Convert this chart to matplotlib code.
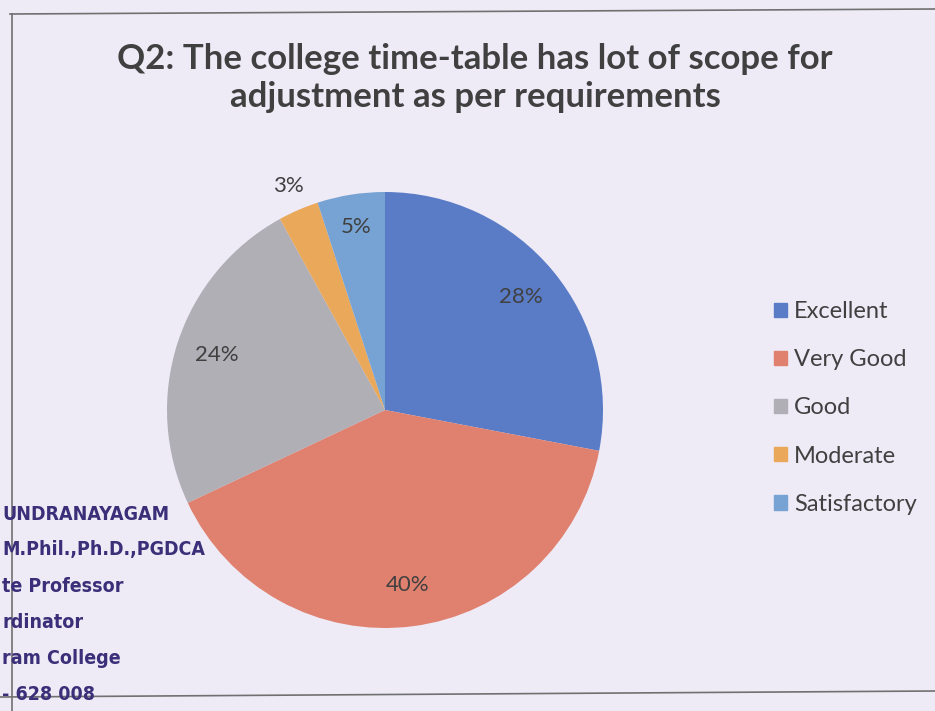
import numpy as np
import matplotlib.pyplot as plt
from matplotlib.patches import Rectangle
from matplotlib.lines import Line2D

# ======================
# Data
# ======================
categories = ['Excellent', 'Very Good', 'Good', 'Moderate', 'Satisfactory']
shares = [28, 40, 24, 3, 5]
colors = ['#5a7cc6', '#e0806e', '#b0afb6', '#e9a85a', '#76a3d3']
title = 'Q2: The college time-table has lot of scope for\nadjustment as per requirements'
stamp_lines = ['UNDRANAYAGAM', 'M.Phil.,Ph.D.,PGDCA', 'te Professor',
               'rdinator', 'ram College', '- 628 008']

bg = '#eeebf7'
text_color = '#404040'
W, H = 935, 711

fig = plt.figure(figsize=(W / 100, H / 100), dpi=100, facecolor=bg)

# chart frame (scanned border)
fig.add_artist(Line2D([10 / W, 1], [1 - 14 / H, 1 - 9 / H], color='#707070', lw=1.2))
fig.add_artist(Line2D([12 / W, 12 / W], [1 - 14 / H, 0], color='#707070', lw=1.2))
fig.add_artist(Line2D([0, 1], [1 - 697 / H, 1 - 691 / H], color='#707070', lw=1.2))

# pie axes: centre (385, 410) px, radius 218 px
cx, cy, r = 385, 410, 218
ax = fig.add_axes([(cx - r) / W, 1 - (cy + r) / H, 2 * r / W, 2 * r / H])
ax.set_facecolor('none')
wedges, texts, autotexts = ax.pie(shares, colors=colors, startangle=90, counterclock=False,
                                  radius=1, autopct='%d%%', pctdistance=0.81,
                                  textprops=dict(color=text_color, fontsize=16, family='Lato'))
ax.set_xlim(-1, 1)
ax.set_ylim(-1, 1)

# 3% label sits outside its slice, 5% a bit further in
for w, t, d in zip(wedges, autotexts, [0.81, 0.81, 0.81, 1.12, 0.85]):
    ang = np.deg2rad((w.theta1 + w.theta2) / 2)
    t.set_position((d * np.cos(ang), d * np.sin(ang)))

# title
fig.text(475 / W, 1 - 78 / H, title, ha='center', va='center', fontsize=25,
         fontweight='bold', color=text_color, family='Lato', linespacing=1.25)

# legend
handles = [Rectangle((0, 0), 1, 1, color=c) for c in colors]
fig.legend(handles, categories, loc='center left', bbox_to_anchor=(753 / W, 1 - 408 / H),
           frameon=False, handlelength=0.55, handleheight=0.55,
           handletextpad=0.3, labelspacing=1.15, labelcolor=text_color,
           prop=dict(family='Lato', size=17))

# scanned stamp text
for i, line in enumerate(stamp_lines):
    fig.text(2 / W, 1 - (514 + i * 36) / H, line, ha='left', va='center', fontsize=14,
             fontweight='bold', fontstretch='condensed', color='#3a2f78', family='DejaVu Sans')

fig.savefig('out.png', dpi=100, facecolor=bg)
